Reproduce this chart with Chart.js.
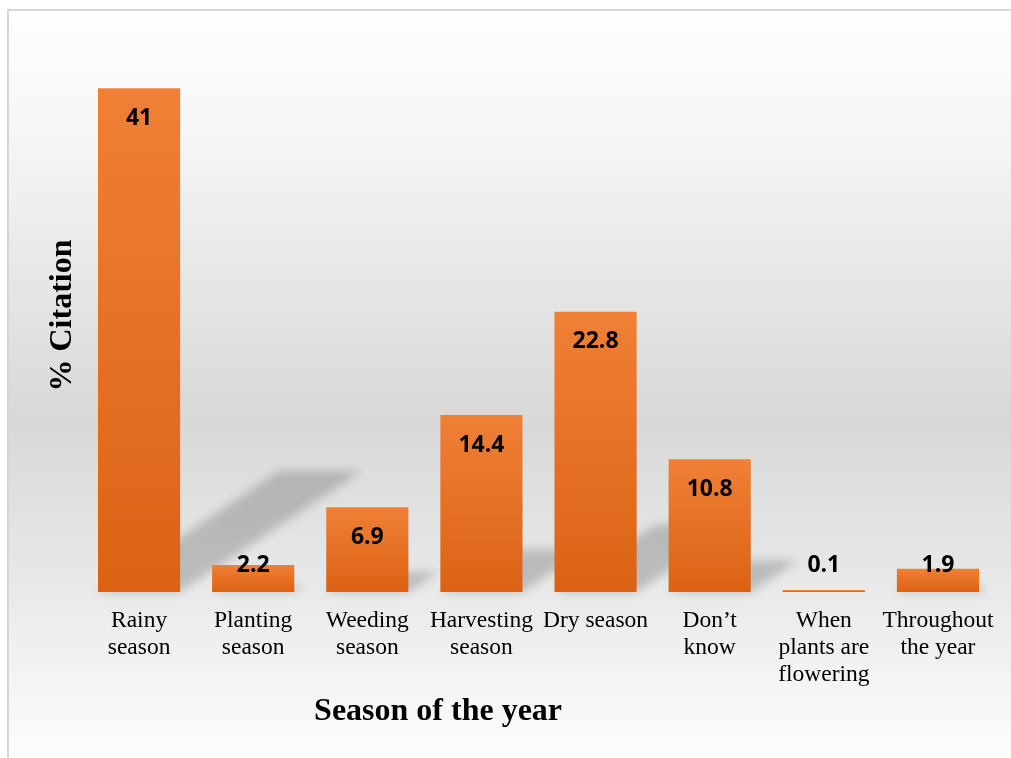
<!DOCTYPE html>
<html lang="en">
<head>
    <meta charset="UTF-8">
    <title>% Citation by season of the year</title>
    <script src="https://cdn.jsdelivr.net/npm/chart.js"></script>
    <style>
        html, body {
            margin: 0;
            padding: 0;
            background-color: #ffffff;
        }
        .chart-container {
            position: relative;
            width: 1011px;
            height: 758px;
        }
    </style>
</head>
<body>
    <div class="chart-container">
        <canvas id="seasonChart" width="1011" height="758"></canvas>
    </div>

    <script>
        const seasons = [
            ['Rainy', 'season'],
            ['Planting', 'season'],
            ['Weeding', 'season'],
            ['Harvesting', 'season'],
            'Dry season',
            ['Don\u2019t', 'know'],
            ['When', 'plants are', 'flowering'],
            ['Throughout', 'the year']
        ];
        const citations = [41, 2.2, 6.9, 14.4, 22.8, 10.8, 0.1, 1.9];
        const yTitle = '% Citation';
        const xTitle = 'Season of the year';

        // grey panel behind everything, with a thin frame on the top and left
        const panelBackground = {
            id: 'panelBackground',
            beforeDraw(chart) {
                const { ctx, width, height } = chart;
                ctx.save();
                const g = ctx.createLinearGradient(0, 9, 0, height);
                g.addColorStop(0, '#fefefe');
                g.addColorStop(0.15, '#f7f7f7');
                g.addColorStop(0.55, '#d8d8d8');
                g.addColorStop(0.8, '#ebebeb');
                g.addColorStop(1, '#fdfdfd');
                ctx.fillStyle = g;
                ctx.fillRect(8, 9, width - 8, height - 9);
                ctx.strokeStyle = '#d6d6d6';
                ctx.lineWidth = 2;
                ctx.beginPath();
                ctx.moveTo(8, height);
                ctx.lineTo(8, 10);
                ctx.lineTo(width, 10);
                ctx.stroke();
                ctx.restore();
            }
        };

        // slanted soft shadow cast behind each bar
        const barShadows = {
            id: 'barShadows',
            beforeDatasetsDraw(chart) {
                const { ctx } = chart;
                const bars = chart.getDatasetMeta(0).data;
                ctx.save();
                ctx.filter = 'blur(5px)';
                ctx.fillStyle = 'rgba(0, 0, 0, 0.19)';
                bars.forEach(bar => {
                    const h = bar.base - bar.y;
                    if (h < 4) return;
                    const rise = h * 0.24;
                    const run = rise * 1.5;
                    const left = bar.x - bar.width / 2;
                    const right = bar.x + bar.width / 2;
                    ctx.beginPath();
                    ctx.moveTo(left, bar.base);
                    ctx.lineTo(right, bar.base);
                    ctx.lineTo(right + run, bar.base - rise);
                    ctx.lineTo(left + run, bar.base - rise);
                    ctx.closePath();
                    ctx.fill();
                });
                ctx.restore();
            }
        };

        // value labels just inside the top of each bar
        const valueLabels = {
            id: 'valueLabels',
            afterDatasetsDraw(chart) {
                const { ctx } = chart;
                const bars = chart.getDatasetMeta(0).data;
                ctx.save();
                ctx.font = 'bold 23px "Open Sans", sans-serif';
                ctx.fillStyle = '#000000';
                ctx.textAlign = 'center';
                ctx.textBaseline = 'middle';
                bars.forEach((bar, i) => {
                    const y = Math.min(bar.y + 30, bar.base - 27);
                    ctx.fillText(String(citations[i]), bar.x, y);
                });
                ctx.restore();
            }
        };

        // x axis title sits left of centre, under the labels
        const xAxisTitle = {
            id: 'xAxisTitle',
            afterDraw(chart) {
                const { ctx, chartArea } = chart;
                ctx.save();
                ctx.font = 'bold 32px "Liberation Serif", "Times New Roman", serif';
                ctx.fillStyle = '#000000';
                ctx.textAlign = 'center';
                ctx.textBaseline = 'middle';
                const x = chartArea.left + (chartArea.right - chartArea.left) * 0.39;
                ctx.fillText(xTitle, x, chartArea.bottom + 120);
                ctx.restore();
            }
        };

        function barGradient(context) {
            const chart = context.chart;
            const yScale = chart.scales.y;
            if (!chart.chartArea || !yScale || context.raw === undefined) {
                return '#e5702a';
            }
            const top = yScale.getPixelForValue(context.raw);
            const base = yScale.getPixelForValue(0);
            if (!isFinite(top) || !isFinite(base) || base - top < 1) {
                return '#e26a22';
            }
            const g = chart.ctx.createLinearGradient(0, top, 0, base);
            g.addColorStop(0, '#ef8036');
            g.addColorStop(1, '#db6215');
            return g;
        }

        new Chart(document.getElementById('seasonChart'), {
            type: 'bar',
            data: {
                labels: seasons,
                datasets: [{
                    label: yTitle,
                    data: citations,
                    backgroundColor: barGradient,
                    borderWidth: 0,
                    minBarLength: 2,
                    categoryPercentage: 1,
                    barPercentage: 0.72
                }]
            },
            options: {
                responsive: false,
                animation: false,
                devicePixelRatio: 1,
                layout: {
                    padding: { top: 39, right: 16, left: 0, bottom: 0 }
                },
                plugins: {
                    legend: { display: false },
                    tooltip: { enabled: false }
                },
                scales: {
                    x: {
                        grid: { display: false, drawTicks: false },
                        border: { display: false },
                        ticks: {
                            autoSkip: false,
                            maxRotation: 0,
                            padding: 15,
                            color: '#000000',
                            font: {
                                family: '"Liberation Serif", "Times New Roman", serif',
                                size: 23.5,
                                lineHeight: 1.15
                            }
                        },
                        afterFit(scale) { scale.height = 166; }
                    },
                    y: {
                        min: 0,
                        max: 45,
                        grid: { display: false, drawTicks: false },
                        border: { display: false },
                        ticks: { display: false },
                        title: {
                            display: true,
                            text: yTitle,
                            color: '#000000',
                            padding: { top: 44, bottom: 0 },
                            font: {
                                family: '"Liberation Serif", "Times New Roman", serif',
                                size: 32,
                                weight: 'bold',
                                lineHeight: 1.2
                            }
                        },
                        afterFit(scale) { scale.width = 82; }
                    }
                }
            },
            plugins: [panelBackground, barShadows, valueLabels, xAxisTitle]
        });
    </script>
</body>
</html>
